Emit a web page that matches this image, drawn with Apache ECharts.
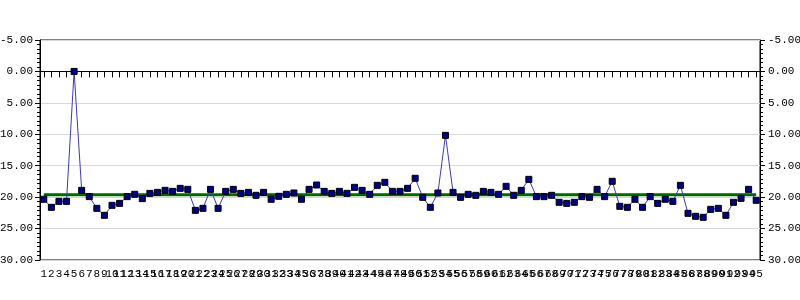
<!DOCTYPE html>
<html>
<head>
<meta charset="utf-8">
<script src="https://cdn.jsdelivr.net/npm/echarts@6/dist/echarts.min.js"></script>
<style>html,body{margin:0;padding:0;background:#fff}#c{width:800px;height:300px}</style>
</head>
<body>
<div id="c"></div>
<script>
var categories = [];
for (var i = 1; i <= 95; i++) categories.push(String(i));

var values = [
  20.34, 21.62, 20.67, 20.67, 0.0, 18.92, 19.92, 21.78, 22.89, 21.3,
  20.99, 19.92, 19.55, 20.24, 19.4, 19.24, 18.92, 19.08, 18.6, 18.76,
  22.1, 21.78, 18.76, 21.78, 19.08, 18.76, 19.4, 19.24, 19.71, 19.24,
  20.34, 19.87, 19.55, 19.34, 20.34, 18.76, 18.07, 19.08, 19.4, 19.08,
  19.4, 18.44, 18.92, 19.55, 18.12, 17.64, 19.08, 19.08, 18.6, 17.0,
  20.03, 21.62, 19.34, 10.17, 19.24, 20.03, 19.55, 19.71, 19.08, 19.24,
  19.55, 18.28, 19.71, 18.92, 17.17, 19.92, 19.92, 19.71, 20.82, 20.99,
  20.82, 19.92, 20.03, 18.76, 19.92, 17.48, 21.46, 21.62, 20.34, 21.62,
  19.92, 20.99, 20.34, 20.67, 18.12, 22.57, 23.05, 23.21, 21.94, 21.78,
  22.89, 20.82, 20.19, 18.76, 20.5
];

var meanValue = 19.6;
var meanLine = categories.map(function () { return meanValue; });

var FONT = '"Liberation Mono", "DejaVu Sans Mono", monospace';

function yAxisCfg(pos) {
  return {
    type: 'value',
    position: pos,
    min: -5, max: 30, interval: 5,
    inverse: true,
    axisLine: { show: true, lineStyle: { color: '#000', width: 1 } },
    axisTick: { show: true, length: 5, lineStyle: { color: '#000' } },
    minorTick: { show: true, splitNumber: 7, length: 3, lineStyle: { color: '#000' } },
    splitLine: { show: pos === 'left', lineStyle: { color: '#d8d8d8', width: 1 } },
    axisLabel: {
      color: '#000', fontFamily: FONT, fontSize: 11, margin: pos === 'left' ? 7 : 8,
      formatter: function (v) { return v.toFixed(2); }
    }
  };
}

var chart = echarts.init(document.getElementById('c'), null, { renderer: 'canvas' });
chart.setOption({
  animation: false,
  backgroundColor: '#fff',
  grid: { left: 40, right: 40, top: 40, bottom: 40, containLabel: false, outerBoundsMode: 'none', show: true, borderColor: '#000', borderWidth: 1, backgroundColor: 'transparent' },
  xAxis: {
    type: 'category',
    data: categories,
    boundaryGap: true,
    axisLine: { show: true, lineStyle: { color: '#000', width: 1 } },
    axisTick: { show: true, alignWithLabel: true, interval: 0, length: 6, lineStyle: { color: '#000' } },
    axisLabel: { interval: 0, color: '#000', fontFamily: FONT, fontSize: 11, margin: 9, hideOverlap: false },
    splitLine: { show: false }
  },
  yAxis: [yAxisCfg('left'), yAxisCfg('right')],
  series: [
    {
      type: 'line',
      data: meanLine,
      yAxisIndex: 0,
      showSymbol: false,
      symbol: 'none',
      lineStyle: { color: '#006600', width: 3 },
      z: 2
    },
    {
      type: 'line',
      data: values,
      yAxisIndex: 0,
      symbol: 'rect',
      symbolSize: 6,
      showAllSymbol: true,
      lineStyle: { color: '#3c3cb0', width: 1 },
      itemStyle: { color: '#000080', borderColor: '#000', borderWidth: 1 },
      z: 3
    }
  ]
});
</script>
</body>
</html>
